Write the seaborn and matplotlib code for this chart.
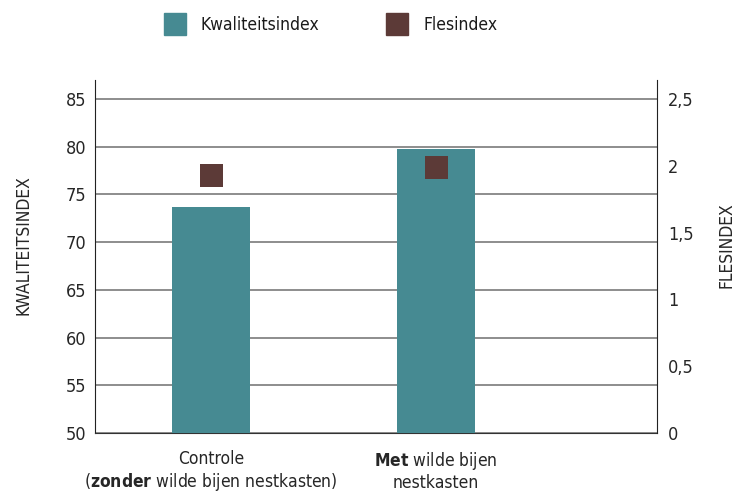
import matplotlib
matplotlib.use("Agg")
import matplotlib.pyplot as plt
import matplotlib.ticker as mticker
from matplotlib.lines import Line2D
import pandas as pd
import seaborn as sns

# data
categories = ["Controle", "Met wilde bijen nestkasten"]
tick_labels = ["Controle\n(" + r"$\bf{zonder}$" + " wilde bijen nestkasten)",
               r"$\bf{Met}$" + " wilde bijen\nnestkasten"]
kwaliteit = [73.7, 79.8]
fles = [1.93, 1.99]

TEAL = "#468a92"
BROWN = "#5c3a37"
FS = 12.5

sns.set_style("white")
plt.rcParams["font.family"] = ["DejaVu Sans"]
plt.rcParams["font.stretch"] = "condensed"
plt.rcParams["mathtext.fontset"] = "custom"
plt.rcParams["mathtext.rm"] = "DejaVu Sans:stretch=condensed"
plt.rcParams["mathtext.bf"] = "DejaVu Sans:bold:stretch=condensed"
plt.rcParams["text.color"] = "#1a1a1a"

df = pd.DataFrame({"cat": categories, "kwal": kwaliteit, "fles": fles})
df["pos"] = range(len(df))

fig = plt.figure(figsize=(7.46, 4.93), dpi=100)
ax = fig.add_axes([0.1273, 0.1217, 0.7534, 0.716])

sns.barplot(data=df, x="cat", y="kwal", color=TEAL, saturation=1,
            width=0.347, linewidth=0, ax=ax, zorder=3)
ax.set_ylim(50, 87)
ax.set_xlim(-0.516, 1.982)
ax.set_yticks(range(50, 86, 5))
ax.yaxis.grid(True, color="#7a7a7a", linewidth=1.2, zorder=0)
ax.set_axisbelow(True)
ax.set_xticks(df["pos"])
ax.set_xticklabels(tick_labels, fontsize=FS, linespacing=1.19)
ax.set_xlabel("")
ax.set_ylabel("KWALITEITSINDEX", fontsize=FS)
ax.yaxis.set_label_coords(-0.112, 0.533)
ax.tick_params(axis="both", length=0, labelsize=FS + 0.5, pad=6)
ax.tick_params(axis="x", labelsize=FS, pad=12)

ax.spines["top"].set_visible(False)
ax.spines["right"].set_visible(False)
ax.spines["left"].set_color("#222222")
ax.spines["bottom"].set_color("#333333")

ax2 = ax.twinx()
sns.scatterplot(data=df, x="pos", y="fles", marker="s", s=276, color=BROWN,
                edgecolor="none", ax=ax2, zorder=5, legend=False)
ax2.set_ylim(0, 2.643)
ax2.set_yticks([0, 0.5, 1, 1.5, 2, 2.5])
ax2.yaxis.set_major_formatter(mticker.FuncFormatter(
    lambda v, _: f"{v:g}".replace(".", ",")))
ax2.set_ylabel("FLESINDEX", fontsize=FS)
ax2.yaxis.set_label_coords(1.1085, 0.533)
ax2.tick_params(axis="y", length=0, labelsize=FS + 0.5, pad=8)
for side in ["top", "left", "bottom"]:
    ax2.spines[side].set_visible(False)
ax2.spines["right"].set_color("#222222")
ax2.set_xlim(-0.516, 1.982)
ax2.set_xlabel("")

handles = [Line2D([], [], marker="s", linestyle="none", markersize=16.5,
                  color=TEAL),
           Line2D([], [], marker="s", linestyle="none", markersize=16.5,
                  color=BROWN)]
fig.legend(handles, ["Kwaliteitsindex", "Flesindex"], loc="center left",
           bbox_to_anchor=(0.1897, 0.95), ncol=2, frameon=False,
           fontsize=FS, columnspacing=3.45, handletextpad=0.52)

fig.savefig("out.png", dpi=100)
